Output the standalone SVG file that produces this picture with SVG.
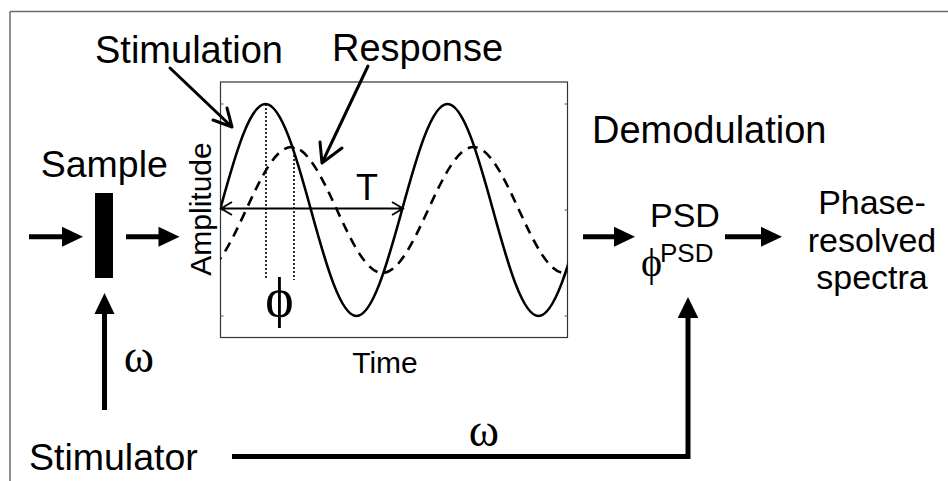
<svg xmlns="http://www.w3.org/2000/svg" width="948" height="481" viewBox="0 0 948 481">
<style>
.t{font-family:"Liberation Sans",Arial,sans-serif;fill:#000}
.g{font-family:"Liberation Serif","DejaVu Serif","Times New Roman",serif;fill:#000}
.thick{stroke:#000;stroke-width:5;fill:none}
.open{stroke:#000;stroke-width:3;fill:none;stroke-linecap:round;stroke-linejoin:round}
.head{fill:#000}
</style>
<defs>
<clipPath id="plotclip"><rect x="220.5" y="82" width="347" height="255.5"/></clipPath>
</defs>
<rect width="948" height="481" fill="#fff"/>
<g id="frame">
<path d="M10,11.5 H948 M10,11.5 V481" stroke="#6b6b6b" stroke-width="1.5" fill="none"/>
</g>
<g id="plot">
<rect x="220.5" y="82" width="347" height="255.5" fill="none" stroke="#333" stroke-width="1.2"/>
<path d="M220.5,104 h3 M220.5,210 h3 M220.5,316 h3 M567.5,104 h-3 M567.5,210 h-3 M567.5,316 h-3" stroke="#555" stroke-width="1"/>
<g clip-path="url(#plotclip)">
<path id="stim" d="M220,210 C235.21,154.34 249.77,104 265.5,104 C281.23,104 295.79,154.34 311,210 C326.21,265.66 340.77,316 356.5,316 C372.23,316 386.79,265.66 402,210 C417.21,154.34 431.77,104 447.5,104 C463.23,104 477.79,154.34 493,210 C508.21,265.66 522.77,316 538.5,316 C554.23,316 568.79,265.66 584,210" fill="none" stroke="#000" stroke-width="2.6"/>
<path id="resp" d="M200.5,273 C216.23,273 230.79,243.08 246,210 C261.21,176.92 275.77,147 291.5,147 C307.23,147 321.79,176.92 337,210 C352.21,243.08 366.77,273 382.5,273 C398.23,273 412.79,243.08 428,210 C443.21,176.92 457.77,147 473.5,147 C489.23,147 503.79,176.92 519,210 C534.21,243.08 548.77,273 564.5,273 C580.23,273 594.79,243.08 610,210" fill="none" stroke="#000" stroke-width="2.6" stroke-dasharray="10 7"/>
</g>
<path d="M266,104 V280 M294,147 V280" stroke="#000" stroke-width="1.6" stroke-dasharray="2 2" fill="none"/>
<path d="M221,208.5 H403 M232,202 L221,208.5 L232,215 M392,202 L403,208.5 L392,215" stroke="#000" stroke-width="1.8" fill="none"/>
<text class="t" x="367" y="200" font-size="36" text-anchor="middle">T</text>
<text class="g" x="279.5" y="316" font-size="54" text-anchor="middle">ϕ</text>
<text class="t" x="385" y="373" font-size="30" text-anchor="middle">Time</text>
<text class="t" transform="translate(211,209) rotate(-90)" font-size="30" text-anchor="middle">Amplitude</text>
</g>
<g id="stimulation-label">
<text class="t" x="95" y="62.5" font-size="38">Stimulation</text>
<path class="open" d="M170,68 L232,127 M227,108 L232,127 L213,120"/>
</g>
<g id="response-label">
<text class="t" x="332" y="61" font-size="38">Response</text>
<path class="open" d="M368,66 L322,163 M320,142 L322,163 L342,148"/>
</g>
<g id="sample">
<text class="t" x="40.7" y="176.7" font-size="37.5">Sample</text>
<rect x="95" y="193" width="18" height="85" fill="#000"/>
</g>
<g id="stimulator">
<text class="t" x="29" y="470" font-size="37.5">Stimulator</text>
</g>
<g id="demodulation">
<text class="t" x="592" y="143" font-size="38">Demodulation</text>
</g>
<g id="psd">
<text class="t" x="650" y="226.7" font-size="34">PSD</text>
<text class="g" x="651.5" y="276" font-size="40" text-anchor="middle">ϕ</text>
<text class="t" x="660" y="261.7" font-size="26">PSD</text>
</g>
<g id="spectra">
<text class="t" x="872" y="214" font-size="34" text-anchor="middle">Phase-</text>
<text class="t" x="872" y="252" font-size="34" text-anchor="middle">resolved</text>
<text class="t" x="872" y="289" font-size="34" text-anchor="middle">spectra</text>
</g>
<g id="connectors">
<path class="thick" d="M29,236.7 H64"/>
<polygon class="head" points="83,236.7 62,226.7 62,246.7"/>
<path class="thick" d="M126,236.7 H160"/>
<polygon class="head" points="179.5,236.7 158.5,226.7 158.5,246.7"/>
<path class="thick" d="M583,236.7 H617"/>
<polygon class="head" points="635,236.7 614,226.7 614,246.7"/>
<path class="thick" d="M725,236.7 H763"/>
<polygon class="head" points="782,236.7 761,226.7 761,246.7"/>
<path class="thick" d="M104.5,410 V312" stroke-width="4.5"/>
<polygon class="head" points="104.5,293 94.5,314 114.5,314"/>
<text class="g" x="139" y="372" font-size="46" text-anchor="middle">ω</text>
<path class="thick" d="M232,456.5 H688 V316" stroke-linejoin="miter"/>
<polygon class="head" points="688,297 677.7,318 698.3,318"/>
<text class="g" x="484" y="446" font-size="46" text-anchor="middle">ω</text>
</g>
</svg>
